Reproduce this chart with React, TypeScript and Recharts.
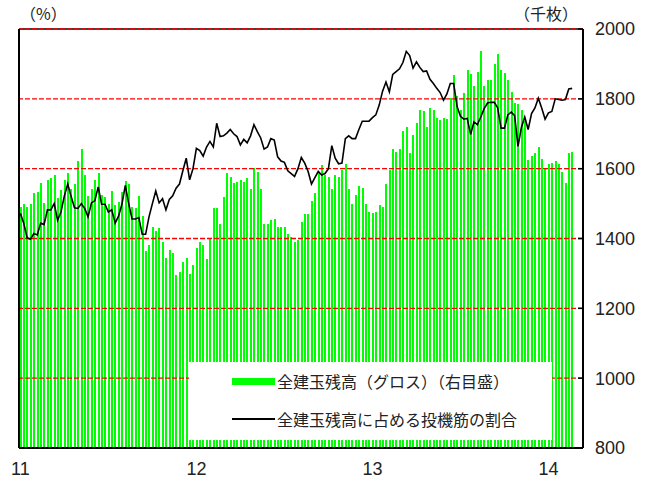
import React from "react";
import {
  ComposedChart,
  Bar,
  Line,
  XAxis,
  YAxis,
  ReferenceLine,
  Legend,
} from "recharts";

// weekly, Jan 2011 – Feb 2014
const yearLabels = ["11", "12", "13", "14"];
const yearStartWeeks = [0, 52, 104, 156];

const rightTicks = [800, 1000, 1200, 1400, 1600, 1800, 2000];
const leftTicks = [0, 10, 20, 30, 40, 50, 60];

// 全建玉残高（グロス）, 千枚
const grossOpenInterest = [
  1490, 1500, 1491, 1499, 1531, 1534, 1558, 1503, 1567, 1572,
  1581, 1515, 1539, 1567, 1587, 1541, 1556, 1623, 1655, 1582,
  1522, 1542, 1567, 1587, 1524, 1520, 1500, 1536, 1495, 1504,
  1534, 1565, 1555, 1491, 1488, 1523, 1464, 1365, 1381, 1432,
  1422, 1431, 1391, 1345, 1368, 1359, 1295, 1304, 1332, 1344,
  1299, 1325, 1373, 1390, 1381, 1341, 1400, 1486, 1486, 1441,
  1519, 1587, 1577, 1558, 1563, 1567, 1563, 1572, 1541, 1601,
  1590, 1541, 1441, 1441, 1453, 1457, 1432, 1432, 1432, 1412,
  1403, 1390, 1395, 1448, 1469, 1469, 1508, 1531, 1587, 1610,
  1581, 1577, 1541, 1582, 1577, 1596, 1613, 1541, 1500, 1526,
  1550, 1545, 1498, 1477, 1472, 1477, 1495, 1491, 1555, 1596,
  1655, 1649, 1655, 1709, 1719, 1644, 1695, 1732, 1767, 1764,
  1719, 1773, 1768, 1744, 1740, 1744, 1742, 1802, 1869, 1809,
  1768, 1818, 1883, 1872, 1837, 1877, 1936, 1838, 1855, 1855,
  1900, 1928, 1883, 1874, 1855, 1821, 1788, 1786, 1767, 1737,
  1625, 1636, 1644, 1663, 1629, 1601, 1612, 1617, 1623, 1612,
  1591, 1558, 1644, 1649,
];

// 全建玉残高に占める投機筋の割合, %
const speculatorShare = [
  33.6, 32.2, 30.1, 29.9, 30.7, 30.5, 32.2, 32.0, 34.1, 34.1,
  35.0, 32.6, 33.8, 36.1, 37.8, 36.0, 34.4, 34.3, 35.0, 34.3,
  33.1, 35.1, 35.4, 37.4, 34.9, 34.9, 33.8, 34.1, 32.2, 33.2,
  34.9, 37.6, 35.0, 32.8, 32.8, 33.0, 30.6, 30.6, 33.1, 35.0,
  36.8, 35.1, 35.7, 34.1, 35.6, 36.1, 37.2, 37.8, 39.7, 41.5,
  38.4, 40.0, 42.9, 42.6, 41.8, 43.1, 43.9, 43.1, 46.5, 44.6,
  44.7, 45.1, 45.6, 45.0, 44.6, 43.4, 44.2, 43.7, 44.7, 46.3,
  45.3, 44.4, 42.8, 43.1, 44.3, 44.1, 41.7, 41.1, 40.9, 39.7,
  39.3, 38.9, 40.0, 41.6, 40.8, 39.6, 37.8, 38.7, 39.6, 39.1,
  39.3, 40.0, 43.3, 41.5, 40.7, 40.8, 44.3, 44.7, 44.3, 44.3,
  45.6, 46.8, 46.8, 46.8, 47.3, 47.7, 49.1, 51.1, 52.4, 51.0,
  53.5, 53.9, 54.3, 55.2, 56.8, 56.2, 54.4, 55.3, 54.5, 53.9,
  54.0, 52.8, 52.2, 51.5, 50.9, 49.8, 50.7, 52.2, 52.2, 48.9,
  47.5, 47.1, 47.2, 44.9, 46.7, 46.3, 47.4, 48.6, 49.4, 49.5,
  49.5, 48.7, 45.8, 45.8, 47.7, 48.1, 47.6, 43.2, 45.9, 47.4,
  45.6, 47.9, 48.7, 50.1, 48.7, 47.1, 48.0, 48.2, 50.0, 49.9,
  49.8, 49.9, 51.4, 51.5,
];

const legendLabels = [
  "全建玉残高（グロス）（右目盛）",
  "全建玉残高に占める投機筋の割合",
];

const GREEN = "#00ff00";
const RED = "#ff0000";
const JP_FONT = "'Noto Sans CJK JP', 'Noto Sans', sans-serif";
const NUM_FONT = "'Liberation Sans Narrow', 'Arial Narrow', 'Liberation Sans', sans-serif";

const data = grossOpenInterest.map((v, i) => ({
  week: i,
  gross: v,
  share: speculatorShare[i],
}));

function renderLegend() {
  const row: React.CSSProperties = {
    position: "absolute",
    left: 43,
    height: 20,
    lineHeight: "20px",
    display: "flex",
    alignItems: "center",
    whiteSpace: "nowrap",
  };
  return (
    <div
      style={{
        position: "relative",
        width: "100%",
        height: "100%",
        fontFamily: JP_FONT,
        fontSize: 16,
        color: "#222",
      }}
    >
      <div style={{ ...row, top: 9 }}>
        <span style={{ display: "inline-block", width: 43, height: 7, background: GREEN, marginRight: 2 }} />
        <span>{legendLabels[0]}</span>
      </div>
      <div style={{ ...row, top: 47 }}>
        <span style={{ display: "inline-block", width: 43, height: 1.5, background: "#000", marginRight: 2 }} />
        <span>{legendLabels[1]}</span>
      </div>
    </div>
  );
}

const unitStyle: React.CSSProperties = {
  position: "absolute",
  top: 3,
  fontFamily: JP_FONT,
  fontSize: 16,
  lineHeight: "20px",
  color: "#222",
  whiteSpace: "nowrap",
};

export default function App() {
  return (
    <div
      style={{
        position: "absolute",
        left: 0,
        top: 0,
        width: 648,
        height: 496,
        background: "#fff",
      }}
    >
      <div style={{ ...unitStyle, left: 20 }}>（%）</div>
      <div style={{ ...unitStyle, left: 514 }}>（千枚）</div>
      <ComposedChart
        width={648}
        height={496}
        data={data}
        margin={{ top: 29, right: 0, left: 0, bottom: 0 }}
      >
        <XAxis
          dataKey="week"
          type="number"
          domain={[-0.4, 166.2]}
          ticks={yearStartWeeks}
          tickFormatter={(w: number) => yearLabels[yearStartWeeks.indexOf(w)] ?? ""}
          height={48}
          tickLine={false}
          tickMargin={8}
          axisLine={{ stroke: "#000", strokeWidth: 2 }}
          tick={{ fontSize: 18, fill: "#222", fontFamily: NUM_FONT }}
          allowDataOverflow
        />
        <YAxis
          yAxisId="left"
          orientation="left"
          width={19}
          domain={[0, 60]}
          ticks={leftTicks}
          tick={false}
          tickSize={-5}
          tickLine={{ stroke: "#000", strokeWidth: 1.5 }}
          axisLine={{ stroke: "#000", strokeWidth: 2 }}
        />
        <YAxis
          yAxisId="right"
          orientation="right"
          width={65}
          domain={[800, 2000]}
          ticks={rightTicks}
          tickSize={-5}
          tickMargin={17}
          tickLine={{ stroke: "#000", strokeWidth: 1.5 }}
          axisLine={{ stroke: "#000", strokeWidth: 2 }}
          tick={{ fontSize: 18, fill: "#222", fontFamily: NUM_FONT }}
        />
        <Bar
          yAxisId="right"
          dataKey="gross"
          fill={GREEN}
          barSize={2}
          shapeRendering="crispEdges"
          isAnimationActive={false}
        />
        <ReferenceLine yAxisId="right" y={2000} stroke="#000" strokeWidth={1.5} zIndex={350} />
        {rightTicks.slice(1).map((t) => (
          <ReferenceLine
            key={t}
            yAxisId="right"
            y={t}
            stroke={RED}
            strokeWidth={1.3}
            strokeDasharray="5 2"
            zIndex={360}
          />
        ))}
        <Line
          yAxisId="left"
          dataKey="share"
          type="linear"
          stroke="#000"
          strokeWidth={1.6}
          dot={false}
          activeDot={false}
          isAnimationActive={false}
        />
        <Legend
          layout="horizontal"
          verticalAlign="middle"
          align="center"
          content={renderLegend}
          wrapperStyle={{
            left: 189,
            top: 362,
            width: 363,
            height: 78,
            background: "#fff",
          }}
        />
      </ComposedChart>
    </div>
  );
}
